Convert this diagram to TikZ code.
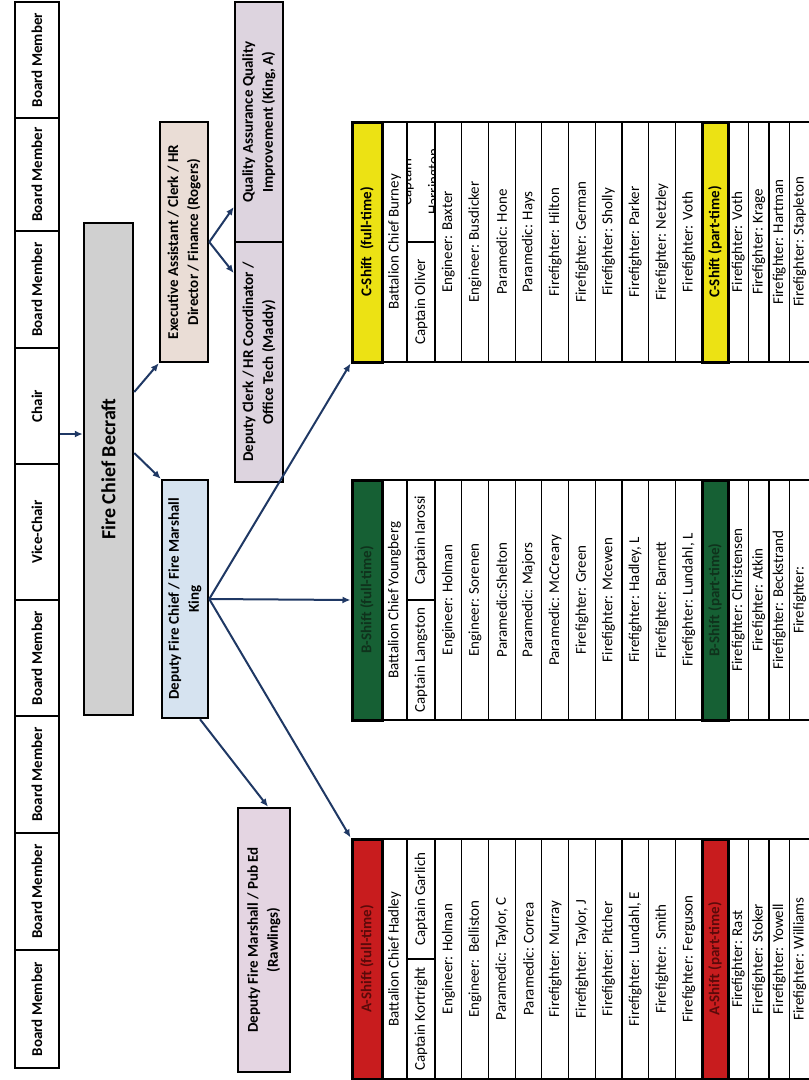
\documentclass[tikz,border=0pt]{standalone}
\usepackage{fontspec}
\setmainfont{Carlito}
\usepackage{xcolor}
\usetikzlibrary{calc,arrows.meta}

\definecolor{linkblue}{RGB}{31,56,100}
\definecolor{chiefgray}{RGB}{208,208,208}
\definecolor{deputyblue}{RGB}{214,227,240}
\definecolor{execbeige}{RGB}{234,221,214}
\definecolor{clerkmauve}{RGB}{221,212,223}
\definecolor{pubedmauve}{RGB}{228,213,226}
\definecolor{shiftyellow}{RGB}{236,226,20}
\definecolor{shiftgreen}{RGB}{22,96,52}
\definecolor{shiftred}{RGB}{200,28,30}
\definecolor{greentext}{RGB}{15,50,28}
\definecolor{redtext}{RGB}{90,10,10}

\begin{document}
\begin{tikzpicture}[x=1pt, y=-1pt,
  every node/.style={rotate=90, inner sep=0pt, align=center},
  board/.style={draw, line width=2.5pt, fill=white, minimum height=44pt, font=\fontsize{15}{18}\selectfont\bfseries},
  office/.style={draw, line width=2.5pt, minimum height=48pt, minimum width=240pt, font=\fontsize{15}{20}\selectfont\bfseries},
  cell/.style={draw, line width=1.2pt, fill=white, minimum width=240pt, font=\fontsize{15}{18}\selectfont},
  hdr/.style={draw, line width=3pt, minimum width=240pt, font=\fontsize{15}{18}\selectfont\bfseries},
  link/.style={draw=linkblue, line width=2pt, -{Latex[length=8pt,width=7pt]}}]
\useasboundingbox (0,0) rectangle (809,1080);
\clip (0,0) rectangle (809,1080);

% board
\foreach \nm/\txt/\ya/\yb in {bm1/Board Member/2/118, bm2/Board Member/118/231, bm3/Board Member/231/348, chair/Chair/348/464, vice/Vice-Chair/464/600, bm4/Board Member/600/716, bm5/Board Member/716/833, bm6/Board Member/833/950, bm7/Board Member/950/1068}
  \node[board, minimum width={\yb-\ya}] (\nm) at (37,{(\ya+\yb)/2}) {\txt};

% offices
\node[office, fill=chiefgray, minimum width=492pt, minimum height=49pt, font=\fontsize{20}{24}\selectfont\bfseries] (chief) at (108.5,469) {Fire Chief Becraft};
\node[office, fill=execbeige] (exec) at (184,242) {Executive Assistant / Clerk / HR\\Director / Finance (Rogers)};
\node[office, fill=clerkmauve] (qa) at (259,122) {Quality Assurance Quality\\Improvement (King, A)};
\node[office, fill=clerkmauve] (clerk) at (259,362) {Deputy Clerk / HR Coordinator /\\Office Tech (Maddy)};
\node[office, fill=deputyblue, minimum width=238pt, minimum height=46pt] (deputy) at (185,599) {Deputy Fire Chief / Fire Marshall\\King};
\node[office, fill=pubedmauve, minimum width=264pt, minimum height=52pt] (pubed) at (264,940) {Deputy Fire Marshall / Pub Ed\\(Rawlings)};

% C-Shift
\foreach \role [count=\i] in {Engineer: Baxter, Engineer: Busdicker, Paramedic: Hone, Paramedic: Hays, Firefighter: Hilton, Firefighter: German, Firefighter: Sholly, Firefighter: Parker, Firefighter: Netzley, Firefighter: Voth}
  \node[cell, minimum height=26.7pt] (c\i) at ({421.65+\i*26.7},242) {\role};
\foreach \role [count=\i] in {Firefighter: Voth, Firefighter: Krage, Firefighter: Hartman, Firefighter: Stapleton}
  \node[cell, minimum height=20.5pt] (cp\i) at ({717.75+\i*20.5},242) {\role};
\node[cell, minimum height=25pt] (cbc) at (394.5,242) {Battalion Chief Burney};
\node[cell, minimum width=120pt, minimum height=28pt] (ccapa) at (421,302) {Captain Oliver};
\node[cell, minimum width=120pt, minimum height=28pt] (ccapb) at (421,182) {};
\begin{scope}
\clip (407,122) rectangle (435,242);
\node[font=\fontsize{15}{18}\selectfont] (ccapbtxt) at (421,182) {Captain\\[9pt]Harrington};
\end{scope}
\node[hdr, fill=shiftyellow, minimum height=30pt] (cfull) at (367,242) {C-Shift\ \ (full-time)};
\node[hdr, fill=shiftyellow, minimum height=26pt] (cpart) at (715,242) {C-Shift (part-time)};

% B-Shift
\foreach \role [count=\i] in {Engineer: Holman, Engineer: Sorenen, Paramedic:Shelton, Paramedic: Majors, Paramedic: McCreary, Firefighter: Green, Firefighter: Mcewen, {Firefighter: Hadley, L}, Firefighter: Barnett, {Firefighter: Lundahl, L}}
  \node[cell, minimum height=26.7pt] (b\i) at ({421.65+\i*26.7},600) {\role};
\foreach \role [count=\i] in {Firefighter: Christensen, Firefighter: Atkin, Firefighter: Beckstrand, Firefighter:}
  \node[cell, minimum height=20.5pt] (bp\i) at ({717.75+\i*20.5},600) {\role};
\node[cell, minimum height=25pt] (bbc) at (394.5,600) {Battalion Chief Youngberg};
\node[cell, minimum width=120pt, minimum height=28pt] (bcapa) at (421,660) {Captain Langston};
\node[cell, minimum width=120pt, minimum height=28pt] (bcapb) at (421,540) {Captain Iarossi};
\node[hdr, fill=shiftgreen, text=greentext, minimum height=30pt] (bfull) at (367,600) {B-Shift (full-time)};
\node[hdr, fill=shiftgreen, text=greentext, minimum height=26pt] (bpart) at (715,600) {B-Shift (part-time)};

% A-Shift
\foreach \role [count=\i] in {Engineer: Holman, Engineer:\ \ Belliston, {Paramedic: Taylor, C}, Paramedic: Correa, Firefighter: Murray, {Firefighter: Taylor, J}, Firefighter: Pitcher, {Firefighter: Lundahl, E}, Firefighter:\ \ Smith, Firefighter: Ferguson}
  \node[cell, minimum height=26.7pt] (a\i) at ({421.65+\i*26.7},959) {\role};
\foreach \role [count=\i] in {Firefighter: Rast, Firefighter: Stoker, Firefighter: Yowell, Firefighter: Williams}
  \node[cell, minimum height=20.5pt] (ap\i) at ({717.75+\i*20.5},959) {\role};
\node[cell, minimum height=25pt] (abc) at (394.5,959) {Battalion Chief Hadley};
\node[cell, minimum width=120pt, minimum height=28pt] (acapa) at (421,1019) {Captain Kortright};
\node[cell, minimum width=120pt, minimum height=28pt] (acapb) at (421,899) {Captain Garlich};
\node[hdr, fill=shiftred, text=redtext, minimum height=30pt] (afull) at (367,959) {A-Shift (full-time)};
\node[hdr, fill=shiftred, text=redtext, minimum height=26pt] (apart) at (715,959) {A-Shift (part-time)};

% links
\coordinate (chairout) at ($(chair.south)+(0,28)$);
\draw[link] (chairout) -- (chairout -| chief.north);
\draw[link] ($(chief.south)+(0,-77)$) -- (exec.north west);
\draw[link] ($(chief.south)+(0,-16)$) -- (deputy.north east);
\draw[link] (exec.south) -- ($(qa.north)+(0,85)$);
\draw[link] (exec.south) -- ($(clerk.north)+(0,-89)$);
\draw[link] (deputy.south) -- (cfull.north west);
\draw[link] (deputy.south) -- (bfull.north);
\draw[link] (deputy.south) -- (afull.north east);
\draw[link] ($(deputy.west)+(15,0)$) -- ($(pubed.east)+(4,0)$);
\end{tikzpicture}
\end{document}
